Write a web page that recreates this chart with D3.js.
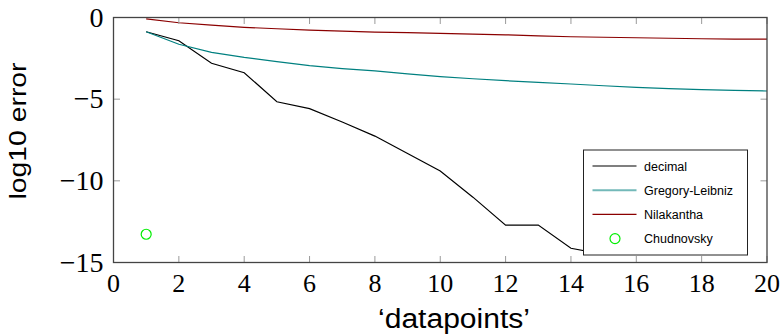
<!DOCTYPE html>
<html>
<head>
<meta charset="utf-8">
<script src="https://cdn.jsdelivr.net/npm/d3@7"></script>
<style>
  body { margin: 0; background: #fff; }
</style>
</head>
<body>
<div id="chart"></div>
<script>
// Data
var decimalX = [1, 2, 3, 4, 5, 6, 7, 8, 9, 10, 11, 12, 13, 14, 15];
var decimalY = [-0.87, -1.42, -2.80, -3.38, -5.16, -5.58, -6.40, -7.26, -8.33, -9.40, -11.0, -12.71, -12.71, -14.13, -14.5];

var seriesX = [1, 2, 3, 4, 5, 6, 7, 8, 9, 10, 11, 12, 13, 14, 15, 16, 17, 18, 19, 20];
var gregoryY = [-0.87, -1.64, -2.13, -2.44, -2.70, -2.95, -3.13, -3.27, -3.45, -3.62, -3.75, -3.87, -3.97, -4.07, -4.18, -4.28, -4.35, -4.42, -4.46, -4.50];
var nilakanthaY = [-0.09, -0.32, -0.47, -0.60, -0.69, -0.77, -0.83, -0.89, -0.93, -0.97, -1.02, -1.06, -1.12, -1.18, -1.21, -1.24, -1.27, -1.30, -1.32, -1.33];

var chudnovskyX = [1];
var chudnovskyY = [-13.27];

var xTicks = [0, 2, 4, 6, 8, 10, 12, 14, 16, 18, 20];
var yTicks = [0, -5, -10, -15];
var legendNames = ['decimal', 'Gregory-Leibniz', 'Nilakantha', 'Chudnovsky'];
var colors = ['#000000', '#008080', '#8b0000', '#00ee00'];

var serif = '"Liberation Serif", "DejaVu Serif", serif';
var sans = '"Liberation Sans", Arial, sans-serif';

var margin = {top: 17.5, right: 14, bottom: 72.5, left: 113.5};
var widthCont = 781, heightCont = 335;
var width = widthCont - margin.left - margin.right;
var height = heightCont - margin.top - margin.bottom;

var x = d3.scaleLinear().domain([0, 20]).range([0, width]);
var y = d3.scaleLinear().domain([-15, 0]).range([height, 0]);

var svg = d3.select('#chart').append('svg')
    .attr('width', widthCont)
    .attr('height', heightCont)
  .append('g')
    .attr('transform', 'translate(' + margin.left + ',' + margin.top + ')');

svg.append('clipPath').attr('id', 'clip')
  .append('rect').attr('width', width).attr('height', height);

function zip(xs, ys) {
  return xs.map(function(v, i) { return {x: v, y: ys[i]}; });
}

var line = d3.line()
  .x(function(d) { return x(d.x); })
  .y(function(d) { return y(d.y); });

var plot = svg.append('g').attr('clip-path', 'url(#clip)');

// lines
var lineData = [zip(decimalX, decimalY), zip(seriesX, gregoryY), zip(seriesX, nilakanthaY)];
plot.selectAll('.series')
  .data(lineData)
.enter().append('path')
  .attr('class', 'series')
  .attr('d', line)
  .attr('fill', 'none')
  .attr('stroke', function(d, i) { return colors[i]; })
  .attr('stroke-width', 1.2);

plot.selectAll('.chud')
  .data(zip(chudnovskyX, chudnovskyY))
.enter().append('circle')
  .attr('class', 'chud')
  .attr('cx', function(d) { return x(d.x); })
  .attr('cy', function(d) { return y(d.y); })
  .attr('r', 5)
  .attr('fill', 'none')
  .attr('stroke', colors[3])
  .attr('stroke-width', 1.2);

// inward ticks on all four sides
var tickLen = 6.5;
var ticks = svg.append('g').attr('stroke', '#9a9a9a').attr('stroke-width', 1);
xTicks.forEach(function(t) {
  ticks.append('line').attr('x1', x(t)).attr('x2', x(t)).attr('y1', height).attr('y2', height - tickLen);
  ticks.append('line').attr('x1', x(t)).attr('x2', x(t)).attr('y1', 0).attr('y2', tickLen);
});
yTicks.forEach(function(t) {
  ticks.append('line').attr('x1', 0).attr('x2', tickLen).attr('y1', y(t)).attr('y2', y(t));
  ticks.append('line').attr('x1', width).attr('x2', width - tickLen).attr('y1', y(t)).attr('y2', y(t));
});

// frame
svg.append('rect')
  .attr('width', width)
  .attr('height', height)
  .attr('fill', 'none')
  .attr('stroke', '#444')
  .attr('stroke-width', 1.3);

// tick labels
svg.selectAll('.x-tl')
  .data(xTicks)
.enter().append('text')
  .attr('class', 'x-tl')
  .attr('x', function(d) { return x(d); })
  .attr('y', height + 29)
  .attr('font-family', serif)
  .attr('font-size', 26)
  .attr('text-anchor', 'middle')
  .text(function(d) { return d; });

svg.selectAll('.y-tl')
  .data(yTicks)
.enter().append('text')
  .attr('class', 'y-tl')
  .attr('x', -10)
  .attr('y', function(d) { return y(d) + 9; })
  .attr('font-family', serif)
  .attr('font-size', 28)
  .attr('text-anchor', 'end')
  .text(function(d) { return d < 0 ? '\u2212' + Math.abs(d) : d; });

// axis labels
svg.append('text')
  .attr('x', 454 - margin.left)
  .attr('y', height + 65)
  .attr('font-family', sans)
  .attr('font-size', 27)
  .attr('text-anchor', 'middle')
  .attr('textLength', 152)
  .attr('lengthAdjust', 'spacingAndGlyphs')
  .text('\u2018datapoints\u2019');

svg.append('text')
  .attr('transform', 'translate(' + (26 - margin.left) + ',' + (131 - margin.top) + ') rotate(-90)')
  .attr('font-family', sans)
  .attr('font-size', 24)
  .attr('text-anchor', 'middle')
  .attr('textLength', 137)
  .attr('lengthAdjust', 'spacingAndGlyphs')
  .text('log10 error');

// legend
var lg = svg.append('g')
  .attr('transform', 'translate(' + (583.5 - margin.left) + ',' + (150 - margin.top) + ')');

lg.append('rect')
  .attr('width', 164)
  .attr('height', 105)
  .attr('fill', '#fff')
  .attr('stroke', '#222')
  .attr('stroke-width', 1);

var rows = lg.selectAll('.lg-row')
  .data(legendNames)
.enter().append('g')
  .attr('class', 'lg-row')
  .attr('transform', function(d, i) { return 'translate(0,' + (16 + i * 24.2) + ')'; });

rows.filter(function(d, i) { return i < 3; })
  .append('line')
  .attr('x1', 9)
  .attr('x2', 53)
  .attr('y1', 0)
  .attr('y2', 0)
  .attr('stroke', function(d, i) { return colors[i]; })
  .attr('stroke-width', function(d, i) { return i === 1 ? 2 : 1.2; })
  .attr('stroke-opacity', function(d, i) { return i === 1 ? 0.55 : 1; });

rows.filter(function(d, i) { return i === 3; })
  .append('circle')
  .attr('cx', 31.5)
  .attr('cy', 0)
  .attr('r', 5)
  .attr('fill', 'none')
  .attr('stroke', colors[3])
  .attr('stroke-width', 1.2);

rows.append('text')
  .attr('x', 60.5)
  .attr('y', 4.5)
  .attr('font-family', sans)
  .attr('font-size', 12.5)
  .text(function(d) { return d; });
</script>
</body>
</html>
